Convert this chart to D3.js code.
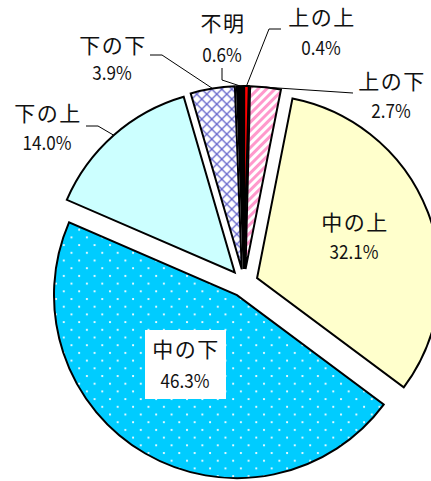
<!DOCTYPE html>
<html>
<head>
<meta charset="utf-8">
<script src="https://cdn.jsdelivr.net/npm/d3@7"></script>
<style>
  html, body { margin: 0; padding: 0; background: #fff; }
  svg { display: block; }
  text { font-family: "Noto Sans CJK JP", "Noto Sans", sans-serif; fill: #111; }
</style>
</head>
<body>
<svg id="chart" width="431" height="481"></svg>
<script>
// Class self-identification shares (%), clockwise from 12 o'clock
const categories = ["上の上", "上の下", "中の上", "中の下", "下の上", "下の下", "不明"];
const values = [0.4, 2.7, 32.1, 46.3, 14.0, 3.9, 0.6];
const valueLabels = ["0.4%", "2.7%", "32.1%", "46.3%", "14.0%", "3.9%", "0.6%"];

// Fill for each slice (pattern ids or plain colours)
const fills = ["#ff0000", "url(#stripes)", "#ffffcc", "url(#dots)", "#ccffff", "url(#hatch)", "#000000"];

// Label placement: text centre x, baseline of name, baseline of value,
// optional leader elbow/end points and optional white box behind the text
const labelLayout = [
  { x: 321, y1: 25, y2: 55, leader: [[269, 29], [281, 29]] },
  { x: 391, y1: 89, y2: 118, leader: [[353, 93]] },
  { x: 354, y1: 230, y2: 259 },
  { x: 185, y1: 357, y2: 388, box: [145, 330, 81, 69] },
  { x: 47, y1: 121, y2: 150, leader: [[98, 126], [86, 126]] },
  { x: 112, y1: 53, y2: 80, leader: [[162, 55], [150, 55]] },
  { x: 222, y1: 31, y2: 62, leader: [[222, 80], [222, 68]] }
];

const svg = d3.select("#chart");
const cx = 244, cy = 283, radius = 183, explode = 14;

// ---- patterns ----
const defs = svg.append("defs");

const stripes = defs.append("pattern")
  .attr("id", "stripes").attr("patternUnits", "userSpaceOnUse")
  .attr("width", 6).attr("height", 6)
  .attr("patternTransform", "rotate(45)");
stripes.append("rect").attr("width", 6).attr("height", 6).attr("fill", "#fff");
stripes.append("rect").attr("width", 3).attr("height", 6).attr("fill", "#ff99cc");

const dots = defs.append("pattern")
  .attr("id", "dots").attr("patternUnits", "userSpaceOnUse")
  .attr("width", 15.4).attr("height", 15.4);
dots.append("rect").attr("width", 15.4).attr("height", 15.4).attr("fill", "#00ccff");
dots.append("circle").attr("cx", 3.9).attr("cy", 3.9).attr("r", 1.1).attr("fill", "#fff");
dots.append("circle").attr("cx", 11.6).attr("cy", 11.6).attr("r", 1.1).attr("fill", "#fff");

const hatch = defs.append("pattern")
  .attr("id", "hatch").attr("patternUnits", "userSpaceOnUse")
  .attr("width", 10).attr("height", 10);
hatch.append("rect").attr("width", 10).attr("height", 10).attr("fill", "#fff");
hatch.append("path").attr("d", "M0,0L10,10M10,0L0,10M-1,9L1,11M9,-1L11,1")
  .attr("stroke", "#6666cc").attr("stroke-width", 1.3).attr("fill", "none");

// ---- pie ----
const pie = d3.pie().sort(null).value(d => d.value).startAngle(0).endAngle(2 * Math.PI);
const data = categories.map((c, i) => ({ name: c, value: values[i], label: valueLabels[i], i }));
const arcs = pie(data);
const arc = d3.arc().innerRadius(0).outerRadius(radius);

const offset = a => {
  const m = (a.startAngle + a.endAngle) / 2;
  return [Math.sin(m) * explode, -Math.cos(m) * explode];
};

const g = svg.append("g").attr("transform", `translate(${cx},${cy})`);

g.selectAll("path.slice")
  .data(arcs)
  .join("path")
  .attr("class", "slice")
  .attr("transform", a => `translate(${offset(a)})`)
  .attr("d", arc)
  .attr("fill", a => fills[a.data.i])
  .attr("stroke", "#000")
  .attr("stroke-width", 2)
  .attr("stroke-linejoin", "miter");

// ---- leader lines ----
arcs.forEach(a => {
  const lay = labelLayout[a.data.i];
  if (!lay.leader) return;
  const m = (a.startAngle + a.endAngle) / 2;
  const [ox, oy] = offset(a);
  const start = [cx + ox + Math.sin(m) * radius, cy + oy - Math.cos(m) * radius];
  svg.append("path")
    .attr("d", d3.line()([start, ...lay.leader]))
    .attr("fill", "none")
    .attr("stroke", "#000")
    .attr("stroke-width", 1);
});

// ---- labels ----
arcs.forEach(a => {
  const lay = labelLayout[a.data.i];
  if (lay.box) {
    svg.append("rect")
      .attr("x", lay.box[0]).attr("y", lay.box[1])
      .attr("width", lay.box[2]).attr("height", lay.box[3])
      .attr("fill", "#fff");
  }
  svg.append("text")
    .attr("x", lay.x + 1).attr("y", lay.y1)
    .attr("text-anchor", "middle")
    .attr("font-size", 21)
    .attr("letter-spacing", 1.5)
    .text(a.data.name);
  // percentages are set slightly condensed
  svg.append("text")
    .attr("transform", `translate(${lay.x},${lay.y2}) scale(0.9,1)`)
    .attr("text-anchor", "middle")
    .attr("font-size", 19)
    .text(a.data.label);
});
</script>
</body>
</html>
